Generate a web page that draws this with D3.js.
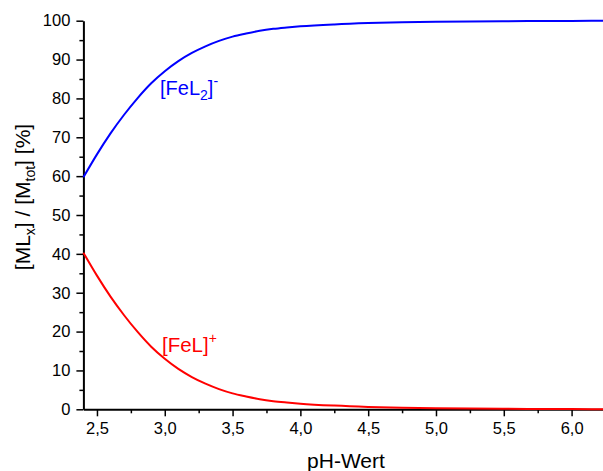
<!DOCTYPE html>
<html><head><meta charset="utf-8">
<script src="https://cdn.jsdelivr.net/npm/d3@7"></script>
<style>html,body{margin:0;padding:0;background:#fff;}svg{display:block;font-family:"Liberation Sans",Arial,sans-serif;}</style>
</head><body>
<svg id="c" width="603" height="471"></svg>
<script>
const pH   = [2.4, 2.5, 2.6, 2.7, 2.8, 2.9, 3.0, 3.1, 3.2, 3.3, 3.4, 3.5, 3.6, 3.7, 3.8, 3.9, 4.0, 4.25, 4.5, 4.75, 5.0, 5.25, 5.5, 5.75, 6.0, 6.25];
const feL  = [40.3, 34.4, 29.0, 24.2, 19.9, 16.1, 13.0, 10.4, 8.3, 6.6, 5.2, 4.1, 3.3, 2.6, 2.1, 1.75, 1.45, 0.95, 0.62, 0.41, 0.27, 0.18, 0.12, 0.08, 0.05, 0.03];
const feL2 = [59.7, 65.6, 71.0, 75.8, 80.1, 83.9, 87.0, 89.6, 91.7, 93.4, 94.8, 95.9, 96.7, 97.4, 97.9, 98.25, 98.55, 99.05, 99.38, 99.59, 99.73, 99.82, 99.88, 99.92, 99.95, 99.97];
const xMajor = [2.5, 3.0, 3.5, 4.0, 4.5, 5.0, 5.5, 6.0];
const xMinor = [2.75, 3.25, 3.75, 4.25, 4.75, 5.25, 5.75, 6.25];
const yMajor = [0, 10, 20, 30, 40, 50, 60, 70, 80, 90, 100];
const yMinor = [5, 15, 25, 35, 45, 55, 65, 75, 85, 95];

const svg = d3.select("#c");
const x = d3.scaleLinear().domain([2.4, 6.25]).range([83.4, 605.5]);
const y = d3.scaleLinear().domain([0, 100]).range([409.3, 20.7]);
const fmt = d => d3.format(".1f")(d).replace(".", ",");

// minor ticks
svg.append("g").attr("transform", `translate(0,${y(0)})`)
  .call(d3.axisBottom(x).tickValues(xMinor).tickSize(4).tickFormat(""))
  .call(g => g.select(".domain").remove())
  .selectAll("line").attr("stroke", "#000").attr("stroke-width", 1.5);
svg.append("g").attr("transform", `translate(${x(2.4)},0)`)
  .call(d3.axisLeft(y).tickValues(yMinor).tickSize(4).tickFormat(""))
  .call(g => g.select(".domain").remove())
  .selectAll("line").attr("stroke", "#000").attr("stroke-width", 1.5);

// major axes
const gx = svg.append("g").attr("transform", `translate(0,${y(0)})`)
  .call(d3.axisBottom(x).tickValues(xMajor).tickSize(7).tickSizeOuter(0).tickPadding(6).tickFormat(fmt));
const gy = svg.append("g").attr("transform", `translate(${x(2.4)},0)`)
  .call(d3.axisLeft(y).tickValues(yMajor).tickSize(7).tickSizeOuter(0).tickPadding(6).tickFormat(d3.format("d")));
[gx, gy].forEach(g => {
  g.select(".domain").attr("stroke", "#000").attr("stroke-width", 2);
  g.selectAll(".tick line").attr("stroke", "#000").attr("stroke-width", 1.5);
  g.selectAll(".tick text").attr("fill", "#000").style("font-size", "16.5px").style("font-family", "Liberation Sans, Arial, sans-serif");
});

// curves
const line = (arr) => d3.line().x((d, i) => x(pH[i])).y(d => y(d)).curve(d3.curveMonotoneX)(arr);
svg.append("path").attr("d", line(feL2)).attr("fill", "none").attr("stroke", "#0000ff").attr("stroke-width", 2);
svg.append("path").attr("d", line(feL)).attr("fill", "none").attr("stroke", "#ff0000").attr("stroke-width", 2);

// labels
const t1 = svg.append("text").attr("x", 160).attr("y", 95).attr("fill", "#0000ff").style("font-size", "20px");
t1.append("tspan").text("[FeL");
t1.append("tspan").attr("dy", 5).style("font-size", "14px").text("2");
t1.append("tspan").attr("dy", -5).text("]");
t1.append("tspan").attr("dy", -9).style("font-size", "14px").text("-");

const t2 = svg.append("text").attr("x", 162).attr("y", 352).attr("fill", "#ff0000").style("font-size", "20.5px");
t2.append("tspan").text("[FeL]");
t2.append("tspan").attr("dy", -9).style("font-size", "14px").text("+");

// axis titles
svg.append("text").attr("x", 346).attr("y", 468).attr("text-anchor", "middle").style("font-size", "21px").text("pH-Wert");

const yt = svg.append("text").attr("transform", "translate(30,197) rotate(-90)").attr("text-anchor", "middle").style("font-size", "21px");
yt.append("tspan").text("[ML");
yt.append("tspan").attr("dy", 5).style("font-size", "14px").text("x");
yt.append("tspan").attr("dy", -5).text("] / [M");
yt.append("tspan").attr("dy", 5).style("font-size", "14px").text("tot");
yt.append("tspan").attr("dy", -5).text("] [%]");
</script>
</body></html>
